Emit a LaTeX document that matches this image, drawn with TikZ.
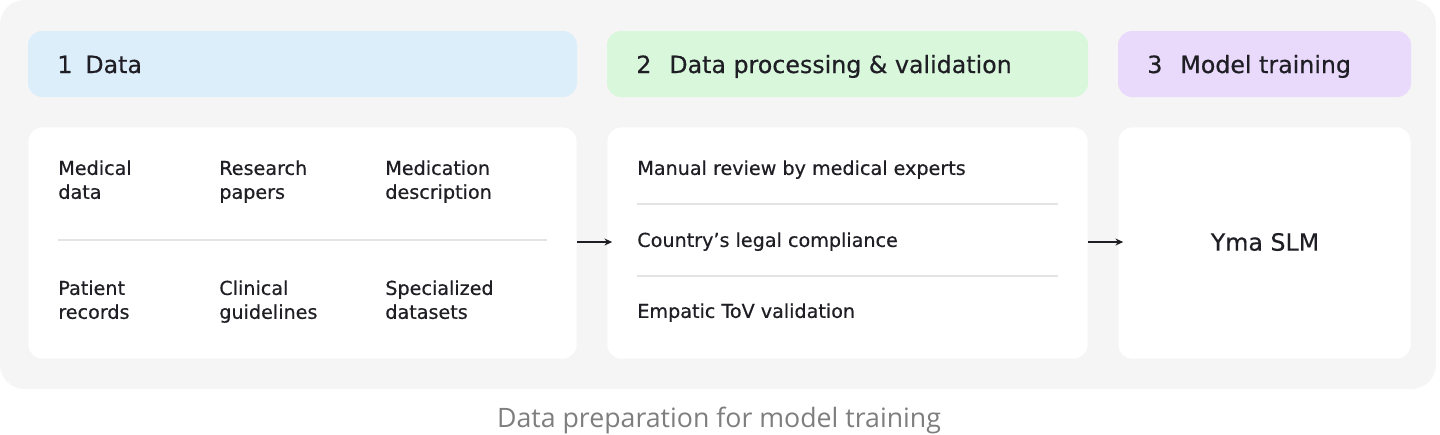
\documentclass[tikz,border=0pt]{standalone}
\usepackage{fontspec}
\setmainfont{DejaVu Sans}[FakeBold=0.45]
\newfontfamily\capfont{Open Sans}
\usetikzlibrary{positioning,arrows.meta}

\definecolor{panelgray}{HTML}{F5F5F5}
\definecolor{headblue}{HTML}{DDEEFB}
\definecolor{headgreen}{HTML}{D8F7DB}
\definecolor{headviolet}{HTML}{E9DAFB}
\definecolor{inkdark}{HTML}{1E1E24}
\definecolor{rulegray}{HTML}{E4E4E4}
\definecolor{capgray}{HTML}{7E7E7E}

\tikzset{
  head/.style={rounded corners=8pt, draw=none},
  card/.style={rounded corners=8pt, fill=white, draw=black!4},
  item/.style={anchor=north west, inner sep=0pt, align=left, text=inkdark,
    font=\fontsize{10.9}{13.6}\selectfont},
  headtxt/.style={anchor=base west, inner sep=0pt, text=inkdark,
    font=\fontsize{13.5}{16}\selectfont},
  sep/.style={draw=rulegray, line width=0.6pt},
  flow/.style={-{Stealth[length=4.5pt,width=4pt]}, line width=0.7pt, inkdark}
}

\begin{document}
\begin{tikzpicture}[x=0.02cm, y=-0.02cm]
  \useasboundingbox (0,0) rectangle (1440,434);
  % background panel
  \fill[panelgray, rounded corners=14pt] (0,0) rectangle (1436,389);

  % headers
  \fill[head, headblue] (28,31) rectangle (577,97);
  \fill[head, headgreen] (607,31) rectangle (1088,97);
  \fill[head, headviolet] (1118,31) rectangle (1411,97);
  \node[headtxt] (n1) at (57,73) {1};
  \node[headtxt] (h1) at (85,73) {Data};
  \node[headtxt] (n2) at (636,73) {2};
  \node[headtxt] (h2) at (669,73) {Data processing \& validation};
  \node[headtxt] (n3) at (1147,73) {3};
  \node[headtxt] (h3) at (1180,73) {Model training};

  % cards
  \draw[card] (28,127) rectangle (577,359);
  \draw[card] (607,127) rectangle (1088,359);
  \draw[card] (1118,127) rectangle (1411,359);
  \coordinate (c1) at (577,242);
  \coordinate (c2in) at (607,242);
  \coordinate (c2) at (1088,242);
  \coordinate (c3in) at (1118,242);

  % data sources
  \node[item] (med) at (58,160) {Medical\\data};
  \node[item] (res) at (219,160) {Research\\papers};
  \node[item] (mdesc) at (385,160) {Medication\\description};
  \node[item] (pat) at (58,280) {Patient\\records};
  \node[item] (clin) at (219,280) {Clinical\\guidelines};
  \node[item] (spec) at (385,280) {Specialized\\datasets};
  \draw[sep] (58,240) -- (547,240);

  % processing steps
  \node[item] (rev) at (637,160) {Manual review by medical experts};
  \node[item] (legal) at (637,232) {Country's legal compliance};
  \node[item] (tov) at (637,303) {Empatic ToV validation};
  \draw[sep] (637,204) -- (1058,204);
  \draw[sep] (637,276) -- (1058,276);

  % model
  \node[text=inkdark, font=\fontsize{13.5}{16}\selectfont] (slm) at (1265,242) {Yma SLM};

  % flow
  \draw[flow] (c1) -- ([xshift=3]c2in);
  \draw[flow] (c2) -- ([xshift=3]c3in);

  % caption
  \node[anchor=base, inner sep=0pt, text=capgray, font=\capfont\fontsize{15.2}{17}\selectfont] (cap) at (719,427) {Data preparation for model training};
\end{tikzpicture}
\end{document}
